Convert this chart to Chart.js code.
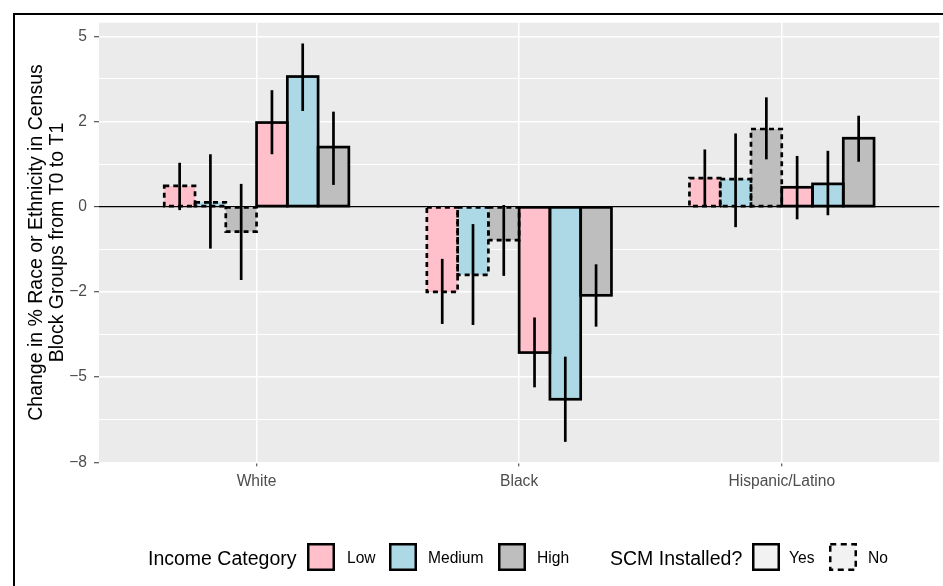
<!DOCTYPE html>
<html>
<head>
<meta charset="utf-8">
<script src="https://cdn.jsdelivr.net/npm/chart.js@4.4.1/dist/chart.umd.min.js"></script>
<style>
  body { margin: 0; background: #fff; font-family: "Liberation Sans", Arial, sans-serif; }
  #wrap { position: relative; width: 943px; height: 586px; overflow: hidden; }
  #frame { position: absolute; left: 13px; top: 13px; width: 1000px; height: 700px;
           border-top: 2.5px solid #000; border-left: 2.5px solid #000; pointer-events: none; }
  .lg { position: absolute; top: 543px; height: 28px; line-height: 28px; white-space: nowrap; color: #000; }
  .lg.title { font-size: 19.5px; top: 544px; }
  .lg.lab { font-size: 15.6px; top: 544px; }
  .lg svg { display: block; }
</style>
</head>
<body>
<div id="wrap">
  <canvas id="chart" width="943" height="586"></canvas>
  <div id="frame"></div>
  <div id="legend"></div>
</div>
<script>
// categories on the x axis
const categories = ['White', 'Black', 'Hispanic/Latino'];

// bar values (change in %), one array per SCM x income series
const noLow     = [0.61, -2.50, 0.84];
const noMedium  = [0.13, -2.00, 0.81];
const noHigh    = [-0.73, -0.98, 2.28];
const yesLow    = [2.47, -4.28, 0.57];
const yesMedium = [3.82, -5.65, 0.67];
const yesHigh   = [1.75, -2.60, 2.01];

// error bar ranges [low, high]
const noLowErr     = [[-0.10, 1.29], [-3.44, -1.53], [0.00, 1.68]];
const noMediumErr  = [[-1.23, 1.54], [-3.47, -0.51], [-0.60, 2.15]];
const noHighErr    = [[-2.15, 0.67], [-2.03, 0.05], [1.39, 3.21]];
const yesLowErr    = [[1.54, 3.42], [-5.30, -3.25], [-0.37, 1.49]];
const yesMediumErr = [[2.81, 4.79], [-6.90, -4.40], [-0.25, 1.64]];
const yesHighErr   = [[0.64, 2.79], [-3.52, -1.69], [1.32, 2.67]];

// y axis: major breaks and their printed labels, plus minor grid
const yTickValues = [-7.5, -5, -2.5, 0, 2.5, 5];
const yTickLabels = ['\u22128', '\u22125', '\u22122', '0', '2', '5'];
const yMinorValues = [-6.25, -3.75, -1.25, 1.25, 3.75];

const incomeLabels = ['Low', 'Medium', 'High'];
const incomeColors = ['#FFC0CB', '#ADD8E6', '#BEBEBE'];
const scmLabels = ['Yes', 'No'];

const series = [
    { name: 'No Low', values: noLow, err: noLowErr, color: incomeColors[0], dashed: true },
    { name: 'No Medium', values: noMedium, err: noMediumErr, color: incomeColors[1], dashed: true },
    { name: 'No High', values: noHigh, err: noHighErr, color: incomeColors[2], dashed: true },
    { name: 'Yes Low', values: yesLow, err: yesLowErr, color: incomeColors[0], dashed: false },
    { name: 'Yes Medium', values: yesMedium, err: yesMediumErr, color: incomeColors[1], dashed: false },
    { name: 'Yes High', values: yesHigh, err: yesHighErr, color: incomeColors[2], dashed: false }
];

const FONT = '"Liberation Sans", Arial, sans-serif';

// grey panel background
const panelBg = {
    id: 'panelBg',
    beforeDraw(chart) {
        const a = chart.chartArea, ctx = chart.ctx;
        ctx.save();
        ctx.fillStyle = '#EBEBEB';
        ctx.fillRect(a.left, a.top, a.right - a.left, a.bottom - a.top);
        ctx.restore();
    }
};

// bar outlines (solid / dashed) and error bars
const outlinesAndErrors = {
    id: 'outlinesAndErrors',
    afterDatasetsDraw(chart) {
        const ctx = chart.ctx, yScale = chart.scales.y;
        ctx.save();
        series.forEach((s, i) => {
            const meta = chart.getDatasetMeta(i);
            meta.data.forEach(bar => {
                const p = bar.getProps(['x', 'y', 'base', 'width'], true);
                const top = Math.min(p.y, p.base), bottom = Math.max(p.y, p.base);
                ctx.lineWidth = 2.7;
                ctx.strokeStyle = '#000';
                ctx.setLineDash(s.dashed ? [5, 4] : []);
                ctx.strokeRect(p.x - p.width / 2, top, p.width, bottom - top);
            });
        });
        ctx.setLineDash([]);
        series.forEach((s, i) => {
            const meta = chart.getDatasetMeta(i);
            meta.data.forEach((bar, j) => {
                const lo = yScale.getPixelForValue(s.err[j][0]);
                const hi = yScale.getPixelForValue(s.err[j][1]);
                ctx.lineWidth = 2.7;
                ctx.strokeStyle = '#000';
                ctx.beginPath();
                ctx.moveTo(bar.x, lo);
                ctx.lineTo(bar.x, hi);
                ctx.stroke();
            });
        });
        ctx.restore();
    }
};

new Chart(document.getElementById('chart'), {
    type: 'bar',
    data: {
        datasets: series.map(s => ({
            label: s.name,
            data: s.values.map((v, i) => ({ x: i + 1, y: v })),
            backgroundColor: s.color,
            borderWidth: 0,
            categoryPercentage: 0.703,
            barPercentage: 1
        }))
    },
    options: {
        responsive: false,
        animation: false,
        layout: { padding: { left: 0, top: 22.7, right: 3.7, bottom: 83.7 } },
        plugins: { legend: { display: false }, tooltip: { enabled: false } },
        scales: {
            x: {
                type: 'linear',
                min: 0.4,
                max: 3.6,
                offset: false,
                border: { display: false },
                grid: { color: '#FFFFFF', lineWidth: 1.5, offset: false, tickLength: 4, tickColor: '#333333', tickWidth: 1 },
                afterBuildTicks: scale => { scale.ticks = categories.map((c, i) => ({ value: i + 1 })); },
                afterFit: scale => { scale.height = 40; },
                ticks: {
                    autoSkip: false,
                    maxRotation: 0,
                    padding: 6,
                    color: '#4D4D4D',
                    font: { family: FONT, size: 15.6 },
                    callback: v => categories[Math.round(v) - 1]
                }
            },
            y: {
                type: 'linear',
                min: -7.5,
                max: 5.4,
                border: { display: false },
                afterBuildTicks: scale => {
                    scale.ticks = yTickValues.concat(yMinorValues).sort((a, b) => a - b).map(v => ({ value: v }));
                },
                afterFit: scale => { scale.width = 99; },
                grid: {
                    color: c => (c.tick && c.tick.value === 0) ? '#000000' : '#FFFFFF',
                    lineWidth: c => (c.tick && c.tick.value === 0) ? 1.3 : (yTickValues.includes(c.tick && c.tick.value) ? 1.5 : 1),
                    tickColor: c => yTickValues.includes(c.tick && c.tick.value) ? '#333333' : 'rgba(0,0,0,0)',
                    tickWidth: 1,
                    tickLength: 5
                },
                ticks: {
                    autoSkip: false,
                    padding: 7,
                    color: '#4D4D4D',
                    font: { family: FONT, size: 15.6 },
                    callback: v => {
                        const k = yTickValues.indexOf(v);
                        return k >= 0 ? yTickLabels[k] : '';
                    }
                },
                title: {
                    display: true,
                    text: ['Change in % Race or Ethnicity in Census', 'Block Groups from T0 to T1'],
                    color: '#000000',
                    font: { family: FONT, size: 19.5, lineHeight: 1.07 },
                    padding: { top: 26.5, bottom: 0 }
                }
            }
        }
    },
    plugins: [panelBg, outlinesAndErrors]
});

// legend built as html below the plot
function swatch(fill, dashed) {
    const dash = dashed ? ' stroke-dasharray="6 4.5"' : '';
    return '<svg width="28" height="28"><rect x="1.25" y="1.25" width="25.5" height="25.5" fill="' + fill +
        '" stroke="#000" stroke-width="2.5"' + dash + '/></svg>';
}
const legendItems = [
    { cls: 'title', left: 148, html: 'Income Category' },
    { cls: 'sw', left: 307, html: swatch(incomeColors[0], false) },
    { cls: 'lab', left: 347, html: incomeLabels[0] },
    { cls: 'sw', left: 389, html: swatch(incomeColors[1], false) },
    { cls: 'lab', left: 428, html: incomeLabels[1] },
    { cls: 'sw', left: 498, html: swatch(incomeColors[2], false) },
    { cls: 'lab', left: 537, html: incomeLabels[2] },
    { cls: 'title', left: 610, html: 'SCM Installed?' },
    { cls: 'sw', left: 752, html: swatch('#F2F2F2', false) },
    { cls: 'lab', left: 789, html: scmLabels[0] },
    { cls: 'sw', left: 829, html: swatch('#F2F2F2', true) },
    { cls: 'lab', left: 868, html: scmLabels[1] }
];
document.getElementById('legend').innerHTML = legendItems.map(it =>
    '<div class="lg ' + it.cls + '" style="left:' + it.left + 'px">' + it.html + '</div>').join('');
</script>
</body>
</html>
